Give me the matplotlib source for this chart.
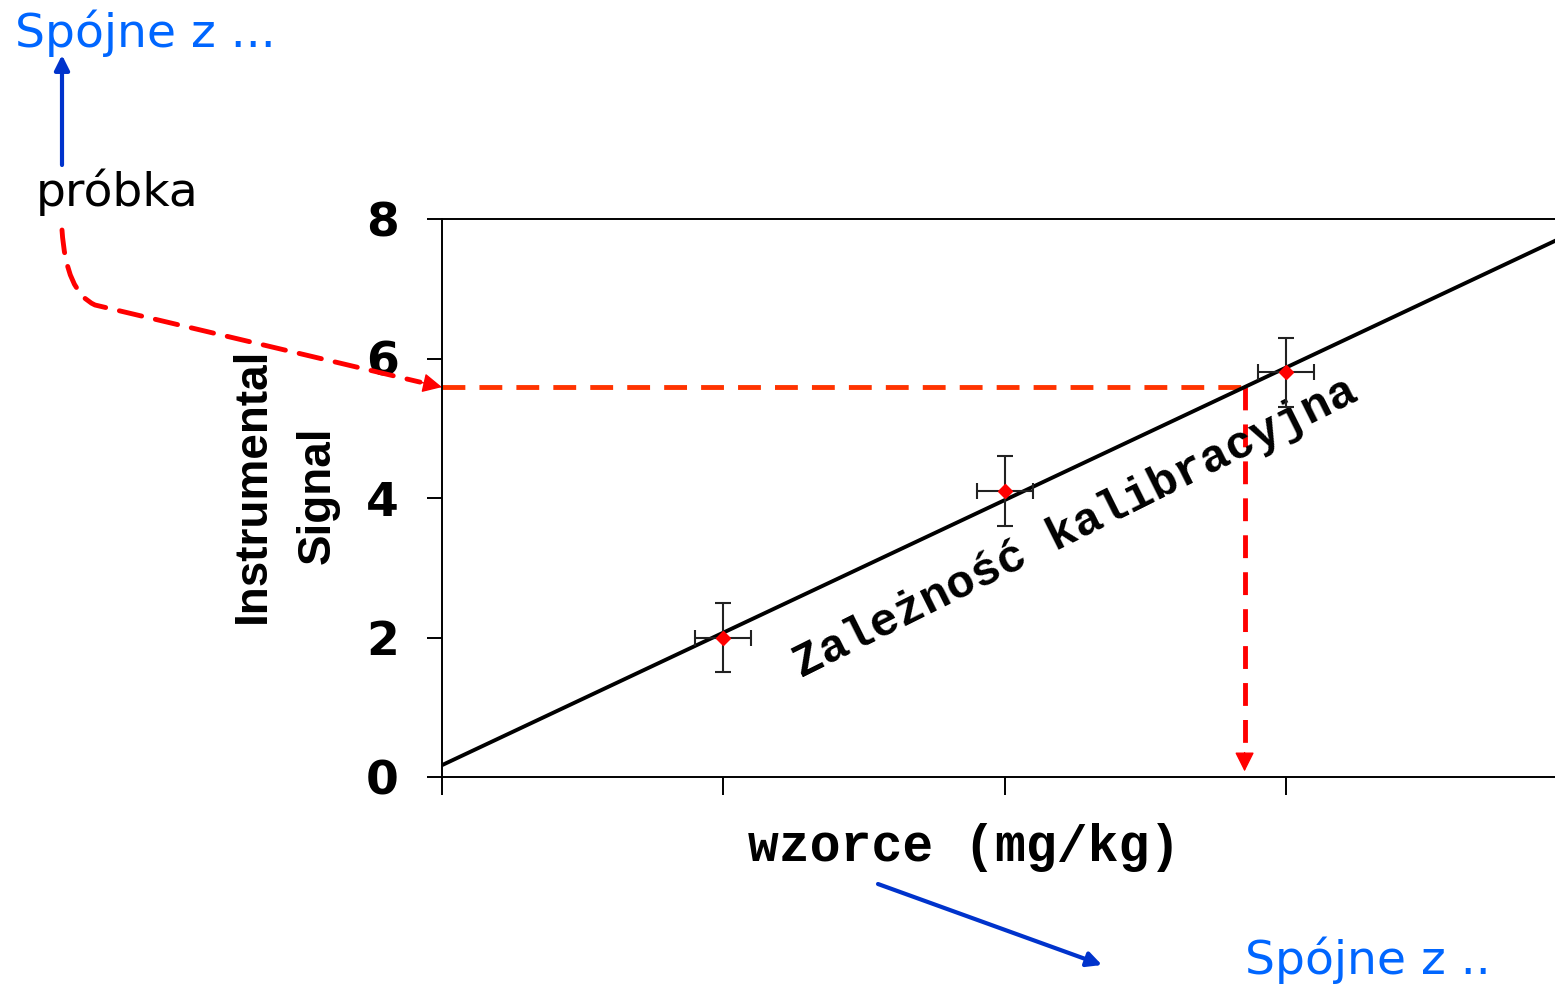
import numpy as np
import matplotlib
matplotlib.use("Agg")
import matplotlib.pyplot as plt
from matplotlib.patches import FancyArrowPatch
from matplotlib.path import Path

# calibration standards
std_x = [1, 2, 3]
std_y = [2.0, 4.1, 5.8]
std_xerr = [0.1, 0.1, 0.1]
std_yerr = [0.5, 0.5, 0.5]

# fitted calibration line
intercept = 0.17
slope = 1.9

# sample signal
sample_y = 5.59

yticks = [0, 2, 4, 6, 8]
xticks = [0, 1, 2, 3]

DASH = (0, (4.7, 2.9))

fig = plt.figure(figsize=(15.55, 9.93), dpi=100)
ax = fig.add_axes([442/1555, 1-777/993, 1-442/1555, (777-219)/993])
ax.set_xlim(0, 3.956)
ax.set_ylim(0, 8)

xx = np.array([0, 3.956])
ax.plot(xx, intercept + slope*xx, color="black", lw=2.8, zorder=3)
ax.errorbar(std_x, std_y, xerr=std_xerr, yerr=std_yerr, fmt="D", color="red",
            ms=7.5, ecolor="#222222", elinewidth=1.5, capsize=6, capthick=1.5, zorder=4)

sample_x = (sample_y - intercept)/slope
ax.plot([0, sample_x], [sample_y, sample_y], color="#ff3300", lw=3.5,
        ls=DASH, zorder=2)
# vertical drop: dashed shaft plus solid head
ax.plot([sample_x, sample_x], [sample_y, 0.3], color="red", lw=3.5, ls=DASH, zorder=2)
ax.annotate("", xy=(sample_x, 0.08), xytext=(sample_x, 0.35),
            arrowprops=dict(arrowstyle="-|>", color="red", lw=1,
                            mutation_scale=30, shrinkA=0, shrinkB=0))

ax.set_yticks(yticks)
ax.set_yticklabels([str(v) for v in yticks], fontsize=34, fontweight="bold")
ax.set_xticks(xticks)
ax.set_xticklabels([])
ax.tick_params(axis="y", length=11, width=1.4, pad=20)
ax.tick_params(axis="x", length=13, width=1.4)
ax.spines["right"].set_visible(False)
for s in ["left", "bottom", "top"]:
    ax.spines[s].set_linewidth(1.4)

fig.text(253/1555, 1-485/993, "Instrumental", rotation=90, ha="center", va="center",
         fontsize=33, fontweight="bold", family="Liberation Sans")
fig.text(318/1555, 1-495/993, "Signal", rotation=90, ha="center", va="center",
         fontsize=33, fontweight="bold", family="Liberation Sans")

fig.text(964/1555, 1-848/993, "wzorce (mg/kg)", ha="center", va="center",
         fontsize=37, fontweight="bold", family="Liberation Mono")

ax.text(2.25, 3.57, "Zależność kalibracyjna", rotation=26.5, ha="center", va="center",
        fontsize=34, fontweight="bold", family="Liberation Mono", rotation_mode="anchor")

fig.text(117/1555, 1-192/993, "próbka", ha="center", va="center", fontsize=34)
fig.text(145/1555, 1-33/993, "Spójne z ...", ha="center", va="center", fontsize=34,
         color="#0066ff")
fig.text(1368/1555, 1-960/993, "Spójne z ..", ha="center", va="center", fontsize=34,
         color="#0066ff")

# blue arrows
fig.patches.append(FancyArrowPatch((62/1555, 1-165/993), (62/1555, 1-55/993),
                   transform=fig.transFigure, arrowstyle="-|>", mutation_scale=22,
                   color="#0033cc", lw=3, shrinkA=0, shrinkB=0))
fig.patches.append(FancyArrowPatch((878/1555, 1-884/993), (1102/1555, 1-965/993),
                   transform=fig.transFigure, arrowstyle="-|>", mutation_scale=22,
                   color="#0033cc", lw=3, shrinkA=0, shrinkB=0))

# dashed curve from sample label to the signal axis
tf = fig.transFigure.inverted()
end = tf.transform(ax.transData.transform((0, sample_y)))
pre = tf.transform(ax.transData.transform((0, sample_y)) + np.array([-22, 5]))
p0 = (62/1555, 1-230/993)
verts = [p0, (66/1555, 1-292/993), (95/1555, 1-305/993), tuple(pre)]
codes = [Path.MOVETO, Path.CURVE3, Path.CURVE3, Path.LINETO]
curve = FancyArrowPatch(path=Path(verts, codes), transform=fig.transFigure,
                        arrowstyle="-", color="red", lw=3.5,
                        ls=DASH, shrinkA=0, shrinkB=0)
fig.patches.append(curve)
fig.patches.append(FancyArrowPatch(tuple(pre), tuple(end), transform=fig.transFigure,
                   arrowstyle="-|>", mutation_scale=30, color="red", lw=1,
                   shrinkA=0, shrinkB=0))

fig.savefig("out.png", dpi=100)
